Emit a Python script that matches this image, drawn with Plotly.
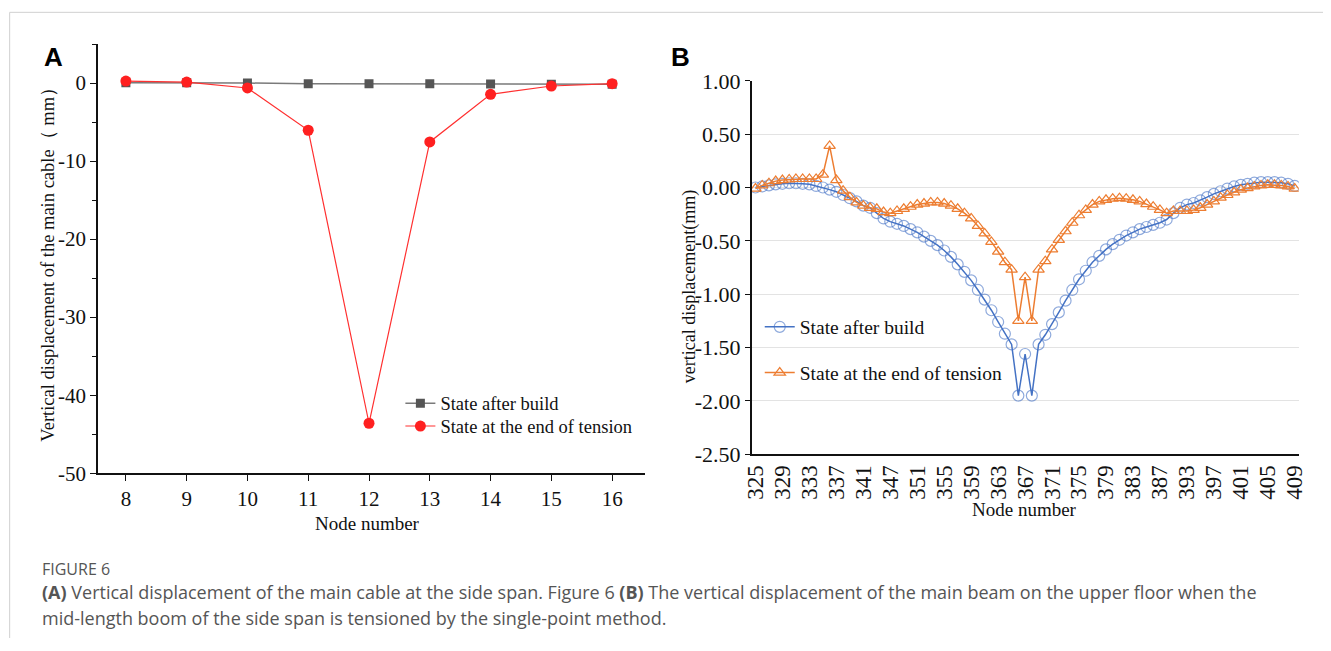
import plotly.graph_objects as go

W, H = 1331, 651
PAGE_OFFSET = 8            # default body margin of the html page
SX, SY, DY = 0.989, 0.968, 2.0   # page-to-screen scaling of the captured window

# ---- Panel A: main cable, side span ----
nodes_a = [8, 9, 10, 11, 12, 13, 14, 15, 16]
after_build_a = [0.05, 0.05, 0.0, -0.08, -0.08, -0.1, -0.12, -0.14, -0.16]
end_tension_a = [0.25, 0.13, -0.63, -6.05, -43.6, -7.55, -1.45, -0.38, -0.08]
yticks_a = [0, -10, -20, -30, -40, -50]

# ---- Panel B: main beam, upper floor ----
nodes_b = [325, 326, 327, 328, 329, 330, 331, 332, 333, 334, 335, 336, 337, 338, 339, 340, 341,
           343, 344, 346,
           347, 348, 349, 350, 351, 352, 353, 354, 355, 356, 357, 358, 359, 360, 361, 362, 363,
           364, 365, 366, 367, 368, 369, 370, 371, 372, 373, 374, 375, 376, 377, 378, 379, 380,
           381, 382, 383, 384, 385, 386, 387,
           389, 390, 392,
           393, 394, 395, 396, 397, 398, 399, 400, 401, 402, 403, 404, 405, 406, 407, 408, 409]
tick_nodes_b = [325, 329, 333, 337, 341, 347, 351, 355, 359, 363, 367, 371, 375, 379, 383,
                387, 393, 397, 401, 405, 409]
after_build_b = [0.00, 0.01, 0.02, 0.03, 0.035, 0.04, 0.04, 0.035, 0.03, 0.015,
                 0.0, -0.02, -0.04, -0.07, -0.10, -0.13, -0.17, -0.19, -0.24, -0.29,
                 -0.32, -0.34, -0.36, -0.39, -0.42, -0.46, -0.50, -0.54, -0.59, -0.65,
                 -0.72, -0.79, -0.87, -0.96, -1.05, -1.15, -1.26, -1.37, -1.47, -1.95,
                 -1.56, -1.95, -1.47, -1.38, -1.28, -1.17, -1.06, -0.96, -0.86, -0.78,
                 -0.70, -0.64, -0.58, -0.53, -0.49, -0.45, -0.42, -0.39, -0.37, -0.35,
                 -0.33, -0.30, -0.24, -0.19, -0.16, -0.145, -0.12, -0.09, -0.06, -0.035,
                 -0.01, 0.01, 0.025, 0.035, 0.045, 0.05, 0.05, 0.05, 0.045, 0.035, 0.015]
end_tension_b = [-0.01, 0.02, 0.04, 0.06, 0.07, 0.075, 0.08, 0.08, 0.08, 0.08,
                 0.12, 0.39, 0.07, -0.03, -0.09, -0.14, -0.17, -0.19, -0.20, -0.23,
                 -0.24, -0.22, -0.20, -0.18, -0.16, -0.15, -0.14, -0.14, -0.15, -0.17,
                 -0.20, -0.24, -0.29, -0.36, -0.43, -0.51, -0.60, -0.70, -0.77, -1.25,
                 -0.84, -1.25, -0.77, -0.69, -0.58, -0.49, -0.41, -0.33, -0.26, -0.21,
                 -0.16, -0.13, -0.115, -0.105, -0.10, -0.105, -0.115, -0.13, -0.155, -0.18,
                 -0.21, -0.24, -0.22, -0.22, -0.22, -0.21, -0.19, -0.16, -0.13, -0.095,
                 -0.07, -0.045, -0.02, -0.005, 0.01, 0.02, 0.025, 0.025, 0.02, 0.01, -0.01]
yticks_b = [1.0, 0.5, 0.0, -0.5, -1.0, -1.5, -2.0, -2.5]

SERIF = "Liberation Serif, Times New Roman, serif"
SANS = "Open Sans, Noto Sans, sans-serif"


def px(x):
    """screen pixel column -> paper fraction"""
    return (x / SX - PAGE_OFFSET) / W


def py(y):
    """screen pixel row -> paper fraction"""
    return 1 - ((y - DY) / SY - PAGE_OFFSET) / H


fig = go.Figure()

# Panel A traces
fig.add_trace(go.Scatter(
    x=nodes_a, y=after_build_a, mode="lines+markers", name="State after build",
    line=dict(color="#7a7a7a", width=1.5),
    marker=dict(symbol="square", size=9, color="#555555"),
    xaxis="x", yaxis="y", legend="legend"))
fig.add_trace(go.Scatter(
    x=nodes_a, y=end_tension_a, mode="lines+markers", name="State at the end of tension",
    line=dict(color="#ff3030", width=1.2),
    marker=dict(symbol="circle", size=11, color="#ff2020"),
    xaxis="x", yaxis="y", legend="legend2"))

# Panel B traces
cats_b = [str(n) for n in nodes_b]
fig.add_trace(go.Scatter(
    x=cats_b, y=after_build_b, mode="lines+markers", name="State after build",
    line=dict(color="#4472c4", width=1.5),
    marker=dict(symbol="circle-open", size=11, color="rgba(68,114,196,0.6)",
                line=dict(width=1.2)),
    xaxis="x2", yaxis="y2", legend="legend3"))
fig.add_trace(go.Scatter(
    x=cats_b, y=end_tension_b, mode="lines+markers", name="State at the end of tension",
    line=dict(color="#ed7d31", width=1.5),
    marker=dict(symbol="triangle-up-open", size=10, color="#ed7d31",
                line=dict(width=1.2)),
    xaxis="x2", yaxis="y2", legend="legend4"))

legend_common = dict(bgcolor="rgba(0,0,0,0)", borderwidth=0,
                     xanchor="left", yanchor="middle", itemclick=False,
                     tracegroupgap=0)
font_a_leg = dict(family=SERIF, size=18.5, color="#111")
font_b_leg = dict(family=SERIF, size=19.5, color="#111")

fig.update_layout(
    width=W, height=H,
    margin=dict(l=0, r=0, t=0, b=0),
    paper_bgcolor="white", plot_bgcolor="white",
    showlegend=True,
    xaxis=dict(domain=[px(97), px(645)], range=[7.54, 16.54], anchor="y",
               tickmode="array", tickvals=nodes_a,
               showline=True, linecolor="#111111", linewidth=1.5,
               ticks="outside", ticklen=6, tickcolor="#111111", tickwidth=1.2,
               showgrid=False, zeroline=False,
               tickfont=dict(family=SERIF, size=21, color="#111111")),
    yaxis=dict(domain=[py(474), py(42)], range=[-50, 5], anchor="x",
               tickmode="array", tickvals=yticks_a,
               ticktext=[str(v) for v in yticks_a],
               showline=True, linecolor="#111111", linewidth=1.5,
               ticks="outside", ticklen=6, tickcolor="#111111", tickwidth=1.2,
               minor=dict(tickmode="array", tickvals=[5, -5, -15, -25, -35, -45],
                          ticks="outside", ticklen=4, tickcolor="#111111"),
               showgrid=False, zeroline=False,
               tickfont=dict(family=SERIF, size=21, color="#111111")),
    xaxis2=dict(domain=[px(752), px(1300)], type="category", anchor="y2",
                range=[-0.55, 80.6],
                tickmode="array", tickvals=[str(n) for n in tick_nodes_b],
                ticktext=[str(n) for n in tick_nodes_b], tickangle=-90,
                showline=True, linecolor="#111111", linewidth=1.5,
                ticks="", showgrid=False, zeroline=False,
                tickfont=dict(family=SERIF, size=23, color="#111111")),
    yaxis2=dict(domain=[py(455), py(79)], range=[-2.5, 1.0], anchor="x2",
                tickmode="array", tickvals=yticks_b,
                ticktext=["%.2f" % v for v in yticks_b],
                showline=True, linecolor="#111111", linewidth=1.5,
                ticks="outside", ticklen=5, tickcolor="#111111",
                showgrid=True, gridcolor="#e3e3e3", gridwidth=1.2, zeroline=False,
                tickfont=dict(family=SERIF, size=22, color="#111111")),
    legend=dict(x=px(400), y=py(404), font=font_a_leg, **legend_common),
    legend2=dict(x=px(400), y=py(427), font=font_a_leg, **legend_common),
    legend3=dict(x=px(760), y=py(327), font=font_b_leg, **legend_common),
    legend4=dict(x=px(760), y=py(373), font=font_b_leg, **legend_common),
)

annotations = [
    dict(text="<b>A</b>", x=px(41), y=py(55), xanchor="left", yanchor="middle",
         font=dict(family="Liberation Sans, Arial, sans-serif", size=26, color="#000")),
    dict(text="<b>B</b>", x=px(669), y=py(55), xanchor="left", yanchor="middle",
         font=dict(family="Liberation Sans, Arial, sans-serif", size=26, color="#000")),
    dict(text="Vertical displacement of the main cable（ mm）", x=px(47), y=py(259),
         textangle=-90, xanchor="center", yanchor="middle",
         font=dict(family=SERIF, size=18.5, color="#111")),
    dict(text="Node number", x=px(367), y=py(525), xanchor="center", yanchor="middle",
         font=dict(family=SERIF, size=19, color="#111")),
    dict(text="vertical displacement(mm)", x=px(690), y=py(286),
         textangle=-90, xanchor="center", yanchor="middle",
         font=dict(family=SERIF, size=18, color="#111")),
    dict(text="Node number", x=px(1025), y=py(511), xanchor="center", yanchor="middle",
         font=dict(family=SERIF, size=19, color="#111")),
    dict(text="FIGURE 6", x=px(39), y=py(570), xanchor="left", yanchor="middle",
         font=dict(family=SANS, size=16, color="#555555")),
    dict(text="<b>(A)</b> Vertical displacement of the main cable at the side span. Figure 6 "
              "<b>(B)</b> The vertical displacement of the main beam on the upper floor when the",
         x=px(39), y=py(594), xanchor="left", yanchor="middle",
         font=dict(family=SANS, size=18, color="#555555")),
    dict(text="mid-length boom of the side span is tensioned by the single-point method.",
         x=px(39), y=py(620), xanchor="left", yanchor="middle",
         font=dict(family=SANS, size=18, color="#555555")),
]
for a in annotations:
    a.update(xref="paper", yref="paper", showarrow=False)
fig.update_layout(annotations=annotations)

# card outline along the top and left edges
fig.update_layout(shapes=[
    dict(type="line", xref="paper", yref="paper", x0=max(px(8), 0.0005), x1=1,
         y0=min(py(8), 0.9995), y1=min(py(8), 0.9995),
         line=dict(color="#d0d0d0", width=1)),
    dict(type="line", xref="paper", yref="paper", x0=max(px(8), 0.0005), x1=max(px(8), 0.0005),
         y0=0, y1=min(py(8), 0.9995),
         line=dict(color="#d0d0d0", width=1)),
])

fig.write_html("out.html")
